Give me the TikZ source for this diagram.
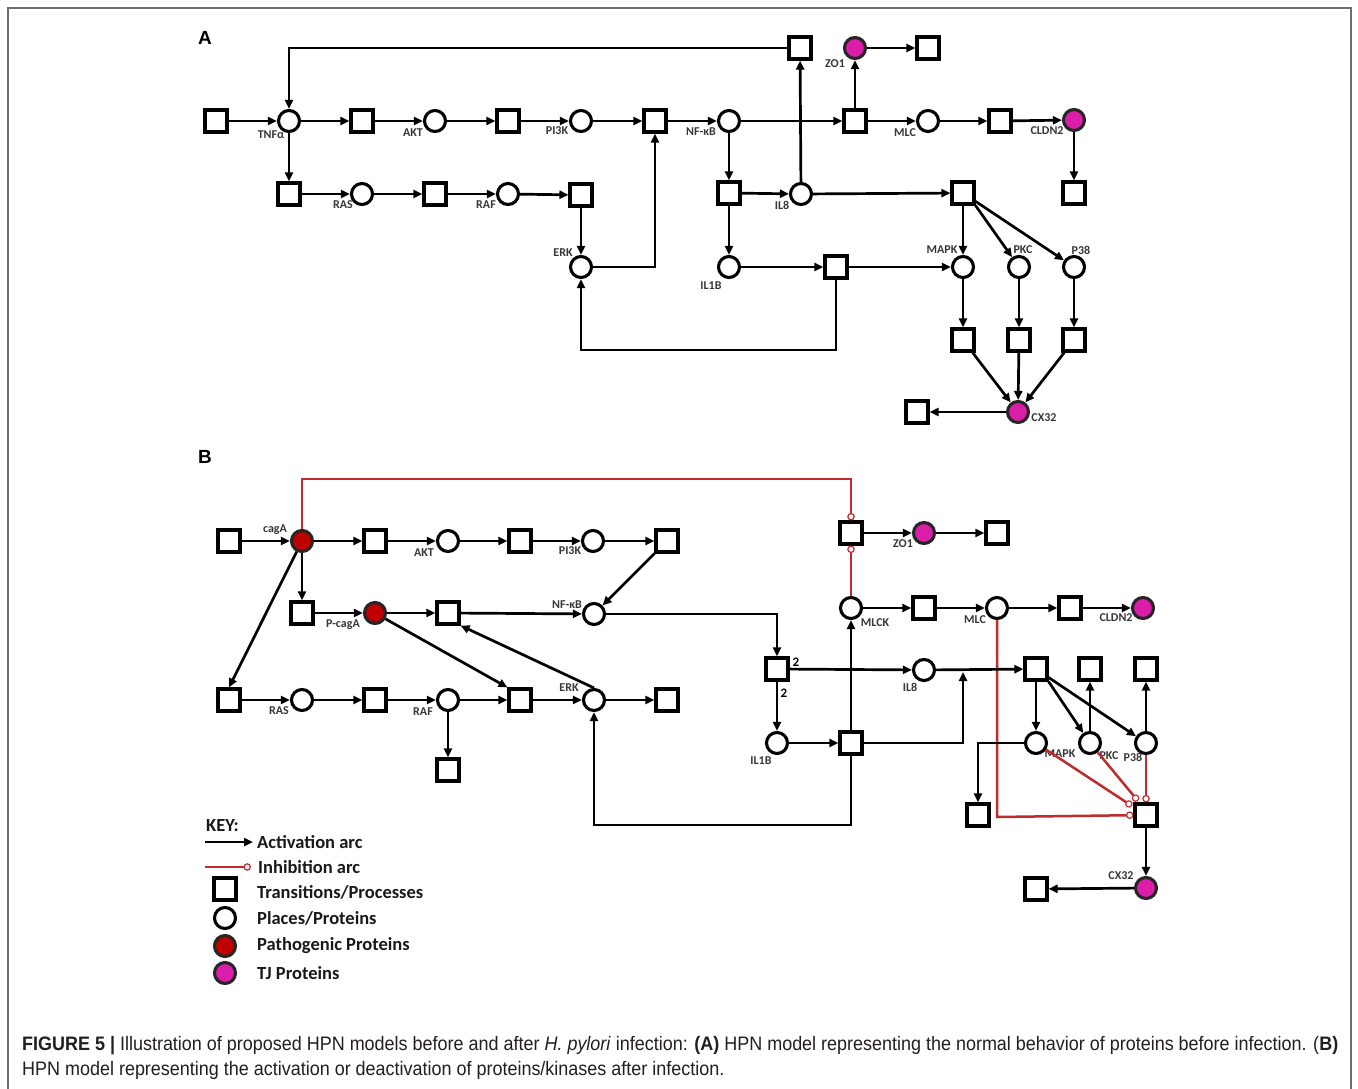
\documentclass[tikz,border=0pt]{standalone}
\usepackage{graphicx}
\usepackage{fontspec}
\setmainfont{Carlito}
\newfontfamily\capfont{Liberation Sans}
\usetikzlibrary{arrows.meta}
\definecolor{tjmag}{RGB}{218,30,170}
\definecolor{pathred}{RGB}{192,0,0}
\definecolor{inhred}{RGB}{190,45,45}
\definecolor{lblgray}{RGB}{55,55,55}
\definecolor{framegray}{RGB}{110,110,110}
\definecolor{capgray}{RGB}{35,31,32}
\tikzset{
  tbox/.style={draw, line width=3.1pt, minimum size=22pt, inner sep=0pt, fill=white},
  pcirc/.style={circle, draw, line width=3.1pt, minimum size=21pt, inner sep=0pt, fill=white},
  tjp/.style={pcirc, fill=tjmag, draw=black!85},
  pathp/.style={pcirc, fill=pathred, draw=black!85},
  lbl/.style={font=\fontsize{12}{14}\selectfont\bfseries, text=lblgray, inner sep=0pt},
  num/.style={font=\fontsize{13}{15}\selectfont\bfseries, text=black, inner sep=0pt},
  keytxt/.style={font=\fontsize{18.5}{21}\selectfont\bfseries, text=black!90, inner sep=0pt, anchor=west},
  panel/.style={font=\capfont\fontsize{19}{21}\selectfont\bfseries, inner sep=0pt},
  act/.style={line width=2.7pt, -{Triangle[length=9pt,width=8pt]}},
  inh/.style={draw=inhred, line width=2.5pt, -{Circle[length=7.5pt,width=7.5pt,open,fill=white,line width=1.2pt]}}
}
\begin{document}
\begin{tikzpicture}[x=1pt,y=-1pt]
\useasboundingbox (0,0) rectangle (1358,1089);
\fill[white] (0,0) rectangle (1358,1089);
\draw[framegray, line width=1.6pt] (8,1095) -- (8,8) -- (1351,8) -- (1351,1095);

% ---------------- Panel A ----------------
\node[panel] (pA) at (205,38) {A};
\node[tbox] (t0) at (216,121) {};
\node[pcirc] (tnf) at (289,121) {};
\node[tbox] (a1) at (362,121) {};
\node[pcirc] (akt) at (435,121) {};
\node[tbox] (a2) at (508,121) {};
\node[pcirc] (pi3k) at (581,121) {};
\node[tbox] (a3) at (655,121) {};
\node[pcirc] (nfkb) at (729,121) {};
\node[tbox] (a4) at (855,121) {};
\node[pcirc] (mlc) at (928,121) {};
\node[tbox] (a5) at (1000,121) {};
\node[tjp] (cldn2) at (1074,120) {};
\node[tbox] (a6) at (1074,193) {};
\node[tbox] (a8) at (800,48) {};
\node[tjp] (zo1) at (855,48) {};
\node[tbox] (a7) at (928,48) {};
\node[tbox] (b1) at (289,194) {};
\node[pcirc] (ras) at (362,194) {};
\node[tbox] (b2) at (435,194) {};
\node[pcirc] (raf) at (508,194) {};
\node[tbox] (b3) at (581,195) {};
\node[tbox] (c1) at (729,193) {};
\node[pcirc] (il8) at (801,194) {};
\node[tbox] (c3) at (963,193) {};
\node[pcirc] (erk) at (581,267) {};
\node[pcirc] (il1b) at (729,267) {};
\node[tbox] (c2) at (836,267) {};
\node[pcirc] (mapk) at (963,267) {};
\node[pcirc] (pkc) at (1019,267) {};
\node[pcirc] (p38) at (1074,267) {};
\node[tbox] (d1) at (963,340) {};
\node[tbox] (d2) at (1019,340) {};
\node[tbox] (d3) at (1074,340) {};
\node[tjp] (cx32) at (1018,412) {};
\node[tbox] (d4) at (917,412) {};
\coordinate (lpA) at (836,350);

\node[lbl] (lTNF) at (271,135) {TNFα};
\node[lbl] (lAKT) at (413,133) {AKT};
\node[lbl] (lPI3K) at (557,131) {PI3K};
\node[lbl] (lNFKB) at (701,132) {NF-κB};
\node[lbl] (lMLC) at (905,133) {MLC};
\node[lbl] (lCLDN2) at (1047,131) {CLDN2};
\node[lbl] (lZO1) at (835,64) {ZO1};
\node[lbl] (lRAS) at (343,205) {RAS};
\node[lbl] (lRAF) at (486,205) {RAF};
\node[lbl] (lIL8) at (782,205) {IL8};
\node[lbl] (lERK) at (563,253) {ERK};
\node[lbl] (lIL1B) at (711,286) {IL1B};
\node[lbl] (lMAPK) at (942,250) {MAPK};
\node[lbl] (lPKC) at (1023,250) {PKC};
\node[lbl] (lP38) at (1081,250) {P38};
\node[lbl] (lCX32) at (1044,418) {CX32};

\draw[act] (t0) -- (tnf);
\draw[act] (tnf) -- (a1);
\draw[act] (a1) -- (akt);
\draw[act] (akt) -- (a2);
\draw[act] (a2) -- (pi3k);
\draw[act] (pi3k) -- (a3);
\draw[act] (a3) -- (nfkb);
\draw[act] (nfkb) -- (a4);
\draw[act] (a4) -- (mlc);
\draw[act] (mlc) -- (a5);
\draw[act] (a5) -- (cldn2);
\draw[act] (cldn2) -- (a6);
\draw[act] (a4) -- (zo1);
\draw[act] (zo1) -- (a7);
\draw[act] (a8) -| (tnf);
\draw[act] (il8) -- (a8);
\draw[act] (tnf) -- (b1);
\draw[act] (b1) -- (ras);
\draw[act] (ras) -- (b2);
\draw[act] (b2) -- (raf);
\draw[act] (raf) -- (b3);
\draw[act] (b3) -- (erk);
\draw[act] (erk) -| (a3);
\draw[act] (nfkb) -- (c1);
\draw[act] (c1) -- (il8);
\draw[act] (c1) -- (il1b);
\draw[act] (il1b) -- (c2);
\draw[act] (c2) -- (mapk);
\draw[act] (c2) -- (lpA) -| (erk);
\draw[act] (il8) -- (c3);
\draw[act] (c3) -- (mapk);
\draw[act] (c3.south east) -- (pkc);
\draw[act] (c3) -- (p38);
\draw[act] (mapk) -- (d1);
\draw[act] (pkc) -- (d2);
\draw[act] (p38) -- (d3);
\draw[act] (d1) -- (cx32);
\draw[act] (d2) -- (cx32);
\draw[act] (d3) -- (cx32);
\draw[act] (cx32) -- (d4);

% ---------------- Panel B ----------------
\node[panel] (pB) at (205,457) {B};
\node[tbox] (e0) at (229,541) {};
\node[pathp] (caga) at (302,541) {};
\node[tbox] (e1) at (375,541) {};
\node[pcirc] (aktB) at (448,541) {};
\node[tbox] (e2) at (520,541) {};
\node[pcirc] (pi3kB) at (593,541) {};
\node[tbox] (e3) at (667,541) {};
\node[tbox] (zoT) at (851,533) {};
\node[tjp] (zo1B) at (924,533) {};
\node[tbox] (z2) at (997,533) {};
\node[tbox] (f1) at (302,613) {};
\node[pathp] (pcaga) at (375,613) {};
\node[tbox] (f2) at (448,613) {};
\node[pcirc] (nfkbB) at (594,614) {};
\node[pcirc] (mlck) at (851,608) {};
\node[tbox] (m1) at (924,608) {};
\node[pcirc] (mlcB) at (997,608) {};
\node[tbox] (m2) at (1070,608) {};
\node[tjp] (cldn2B) at (1143,608) {};
\node[tbox] (h1) at (777,669) {};
\node[pcirc] (il8B) at (924,670) {};
\node[tbox] (k1) at (1036,669) {};
\node[tbox] (k2) at (1090,669) {};
\node[tbox] (k3) at (1146,669) {};
\node[tbox] (g0) at (229,700) {};
\node[pcirc] (rasB) at (302,700) {};
\node[tbox] (g1) at (375,700) {};
\node[pcirc] (rafB) at (448,700) {};
\node[tbox] (g2) at (520,700) {};
\node[pcirc] (erkB) at (594,700) {};
\node[tbox] (g3) at (667,700) {};
\node[pcirc] (il1bB) at (777,743) {};
\node[tbox] (h2) at (851,743) {};
\node[pcirc] (mapkB) at (1036,743) {};
\node[pcirc] (pkcB) at (1090,743) {};
\node[pcirc] (p38B) at (1146,743) {};
\node[tbox] (g4) at (448,770) {};
\node[tbox] (k4) at (978,815) {};
\node[tbox] (kq) at (1146,815) {};
\node[tjp] (cx32B) at (1146,888) {};
\node[tbox] (n1) at (1036,889) {};
\coordinate (rt) at (851,479);
\coordinate (rc) at (997,817);
\coordinate (lpB) at (851,825);
\coordinate (j1) at (963,672);
\coordinate (i1) at (1132,806);
\coordinate (i2) at (1138,801);

\node[lbl] (lcagA) at (275,530) {cagA};
\node[lbl] (lAKTB) at (424,553) {AKT};
\node[lbl] (lPI3KB) at (570,551) {PI3K};
\node[lbl] (lPcagA) at (343,625) {P-cagA};
\node[lbl] (lNFKBB) at (567,605) {NF-κB};
\node[lbl] (lZO1B) at (903,544) {ZO1};
\node[lbl] (lMLCK) at (875,623) {MLCK};
\node[lbl] (lMLCB) at (975,620) {MLC};
\node[lbl] (lCLDN2B) at (1116,618) {CLDN2};
\node[lbl] (lIL8B) at (910,687) {IL8};
\node[lbl] (lIL1BB) at (761,761) {IL1B};
\node[lbl] (lRASB) at (279,711) {RAS};
\node[lbl] (lRAFB) at (423,712) {RAF};
\node[lbl] (lERKB) at (569,688) {ERK};
\node[lbl] (lMAPKB) at (1060,754) {MAPK};
\node[lbl] (lPKCB) at (1109,756) {PKC};
\node[lbl] (lP38B) at (1133,757) {P38};
\node[lbl] (lCX32B) at (1121,876) {CX32};
\node[num] (n2a) at (796,662) {2};
\node[num] (n2b) at (784,693) {2};

% inhibition arcs
\draw[inh] (caga) |- (rt) -- (zoT);
\draw[inh] (mlck) -- (zoT);
\draw[inh] (mlcB) -- (rc) -- (kq);
\draw[inh] (mapkB) -- (i1);
\draw[inh] (pkcB) -- (i2);
\draw[inh] (p38B) -- (kq);

% activation arcs
\draw[act] (e0) -- (caga);
\draw[act] (caga) -- (e1);
\draw[act] (e1) -- (aktB);
\draw[act] (aktB) -- (e2);
\draw[act] (e2) -- (pi3kB);
\draw[act] (pi3kB) -- (e3);
\draw[act] (e3) -- (nfkbB);
\draw[act] (caga) -- (f1);
\draw[act] (f1) -- (pcaga);
\draw[act] (pcaga) -- (f2);
\draw[act] (f2) -- (nfkbB);
\draw[act] (caga) -- (g0.north);
\draw[act] (g0) -- (rasB);
\draw[act] (rasB) -- (g1);
\draw[act] (g1) -- (rafB);
\draw[act] (rafB) -- (g2);
\draw[act] (g2) -- (erkB);
\draw[act] (erkB) -- (g3);
\draw[act] (pcaga) -- (g2.north west);
\draw[act] (erkB.north) -- (f2.south east);
\draw[act] (rafB) -- (g4);
\draw[act] (nfkbB) -| (h1);
\draw[act] (h1) -- (il8B);
\draw[act] (h1) -- (il1bB);
\draw[act] (il1bB) -- (h2);
\draw[act] (h2) -- (mlck);
\draw[act] (h2) -| (j1);
\draw[act] (il8B) -- (k1);
\draw[act] (k1) -- (mapkB);
\draw[act] (k1.south east) -- (pkcB);
\draw[act] (k1) -- (p38B);
\draw[act] (pkcB) -- (k2);
\draw[act] (p38B) -- (k3);
\draw[act] (mapkB) -| (k4);
\draw[act] (h2) -- (lpB) -| (erkB);
\draw[act] (mlck) -- (m1);
\draw[act] (m1) -- (mlcB);
\draw[act] (mlcB) -- (m2);
\draw[act] (m2) -- (cldn2B);
\draw[act] (zoT) -- (zo1B);
\draw[act] (zo1B) -- (z2);
\draw[act] (kq) -- (cx32B);
\draw[act] (cx32B) -- (n1);

% ---------------- Key ----------------
\node[keytxt] (kKey) at (206,826) {KEY:};
\coordinate (ka1) at (205,842);
\coordinate (ka2) at (253,842);
\coordinate (ki1) at (205,867);
\coordinate (ki2) at (251,867);
\draw[act] (ka1) -- (ka2);
\draw[inh] (ki1) -- (ki2);
\node[keytxt] (kAct) at (257,842) {Activation arc};
\node[keytxt] (kInh) at (258,867) {Inhibition arc};
\node[tbox] (kSq) at (225,889) {};
\node[keytxt] (kTr) at (257,892) {Transitions/Processes};
\node[pcirc] (kCi) at (225,918) {};
\node[keytxt] (kPl) at (257,918) {Places/Proteins};
\node[pathp] (kRd) at (225,946) {};
\node[keytxt] (kPa) at (257,946) {Pathogenic Proteins};
\node[tjp] (kMg) at (225,973) {};
\node[keytxt] (kTJ) at (257,973) {TJ Proteins};

% ---------------- Caption ----------------
\node[anchor=base west, inner sep=0pt, text=capgray] (cap) at (22,1050)
 {\capfont\fontsize{19.5}{25}\selectfont\resizebox{1316pt}{\height}{\begin{tabular}[t]{@{}l@{}}%
 \textbf{FIGURE 5 |} Illustration of proposed HPN models before and after \textit{H. pylori} infection: \textbf{(A)} HPN model representing the normal behavior of proteins before infection. ({\bfseries B)}\\
 HPN model representing the activation or deactivation of proteins/kinases after infection.
 \end{tabular}}};
\end{tikzpicture}
\end{document}
